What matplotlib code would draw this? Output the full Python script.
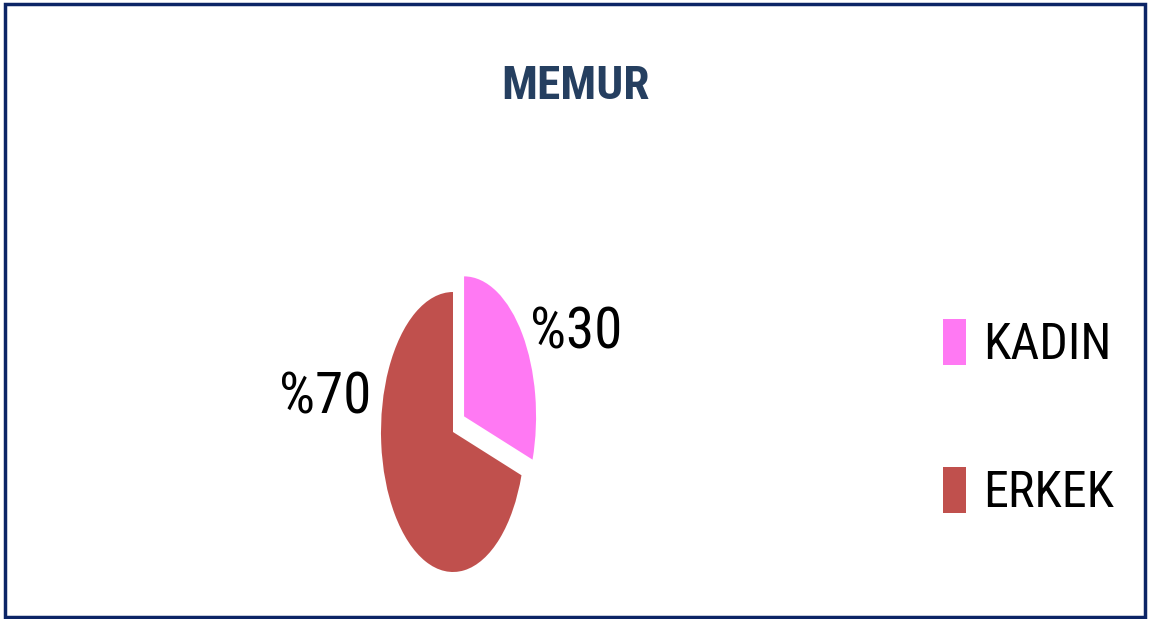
import matplotlib
matplotlib.use('Agg')
from matplotlib import pyplot as plt
from matplotlib import font_manager
from matplotlib.font_manager import FontProperties
from matplotlib.patches import Rectangle

# data
labels = ['KADIN', 'ERKEK']
values = [30, 70]
pct_labels = ['%30', '%70']
colors = ['#ff79f3', '#c0504d']
title = 'MEMUR'


# look for the narrowest face among the installed fonts
def narrow_font(bold=False):
    for family in ['Liberation Sans Narrow', 'Roboto Condensed', 'DejaVu Sans Condensed']:
        for f in font_manager.fontManager.ttflist:
            if family not in (f.name + ' ' + f.fname.replace('-', ' ')) or f.style != 'normal':
                continue
            is_bold = f.weight in ('bold', 700, 'heavy', 800, 'black', 900)
            if is_bold == bold:
                return FontProperties(fname=f.fname), family
    return FontProperties(family='Roboto', weight='bold' if bold else 'normal'), 'Roboto'


fp, fam = narrow_font()
fpb, _ = narrow_font(bold=True)
very_narrow = fam == 'Liberation Sans Narrow'

W, H = 1157, 619
fig = plt.figure(figsize=(W / 100, H / 100), dpi=100)

# page border
fig.patches.append(Rectangle((5 / W, 2 / H), 1140 / W, 613 / H, transform=fig.transFigure,
                             fill=False, edgecolor='#0c2566', linewidth=2.5))

# pie axes, stretched so the pie comes out as a tall ellipse
ax = fig.add_axes([345 / W, 12 / H, 216 / W, 350 / H])
wedges, _ = ax.pie(values, colors=colors, startangle=90, counterclock=False,
                   explode=[0.19, 0])
ax.set_aspect('auto')
ax.set_xlim(-1.5, 1.5)
ax.set_ylim(-1.25, 1.25)
ax.axis('off')

fig.text(575 / W, 1 - 86 / H, title, ha='center', va='center', fontproperties=fpb,
         fontsize=40 if very_narrow else 34, color='#253f60')

pct_size = 48 if very_narrow else 41
fig.text(576 / W, 1 - 333 / H, pct_labels[0], ha='center', va='center', fontproperties=fp, fontsize=pct_size)
fig.text(325 / W, 1 - 398 / H, pct_labels[1], ha='center', va='center', fontproperties=fp, fontsize=pct_size)

fp_leg = fp.copy()
fp_leg.set_size(42 if very_narrow else 36)
leg = fig.legend(wedges, labels, loc='center left', bbox_to_anchor=(943 / W, 1 - 418 / H),
                 frameon=False, prop=fp_leg, handlelength=0.45, handleheight=1.05,
                 handletextpad=0.35, labelspacing=1.95, borderpad=0, borderaxespad=0)

fig.savefig('out.png', dpi=100)
